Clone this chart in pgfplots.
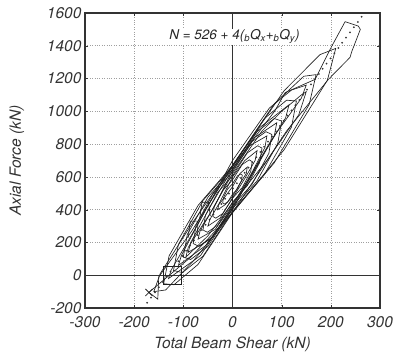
\documentclass[border=0pt]{standalone}
\usepackage{fontspec}
\setmainfont{TeX Gyre Heros}
\usepackage{pgfplots}
\pgfplotsset{compat=1.18}
\begin{document}
\begin{tikzpicture}
\begin{axis}[
 width=295pt, height=295pt, scale only axis,
 xmin=-300, xmax=300, ymin=-200, ymax=1600,
 xtick={-300,-200,...,300}, ytick={-200,0,...,1600},
 grid=major, grid style={dotted, gray!75, line width=0.6pt},
 axis line style={line width=1.3pt, black!80},
 tick align=inside, major tick length=3pt, tick style={black!80},
 /pgf/number format/assume math mode=true,
 /pgf/number format/set thousands separator={},
 ticklabel style={font=\fontsize{15.5}{18}\selectfont\itshape, text=black!80},
 xticklabel style={anchor=center, yshift=-14pt},
 label style={font=\fontsize{15.5}{18}\selectfont\itshape, text=black!80},
 xlabel={Total Beam Shear (kN)}, ylabel={Axial Force (kN)},
 xlabel style={at={(axis description cs:0.5,-0.122)}, anchor=center},
 ylabel style={at={(axis description cs:-0.231,0.5)}, anchor=center},
 clip=true,
 cyc/.style={black!88, line width=0.65pt},
]
\draw[line width=0.8pt, black!80] (axis cs:0,-200) -- (axis cs:0,1600);
\draw[line width=0.8pt, black!80] (axis cs:-300,0) -- (axis cs:300,0);
% gravity loading
\addplot[black!85, line width=1.4pt] coordinates {(0,0) (0,540)};
% hysteresis cycles
\addplot[cyc] coordinates {(0,558) (10,606) (17,618) (20,610) (18,576) (10,526) (0,494) (-10,446) (-17,434) (-20,442) (-18,476) (-10,526) (0,558)};
\addplot[cyc] coordinates {(0,582) (20,676) (34,704) (40,693) (37,632) (20,536) (0,470) (-20,376) (-34,348) (-40,359) (-37,420) (-20,516) (0,582)};
\addplot[cyc] coordinates {(0,606) (30,746) (51,790) (60,776) (55,686) (30,546) (0,446) (-30,306) (-51,262) (-60,276) (-55,366) (-30,506) (0,606)};
\addplot[cyc] coordinates {(0,630) (40,816) (68,876) (80,859) (74,744) (40,556) (0,422) (-40,236) (-68,176) (-80,193) (-74,308) (-40,496) (0,630)};
\addplot[cyc] coordinates {(0,646) (50,876) (85,956) (100,941) (92,804) (50,576) (0,406) (-50,176) (-85,96) (-100,111) (-92,248) (-50,476) (0,646)};
\addplot[cyc] coordinates {(0,662) (65,956) (110,1068) (130,1063) (120,904) (65,616) (0,390) (-60,116) (-102,16) (-120,29) (-110,188) (-60,456) (0,662)};
\addplot[cyc] coordinates {(0,670) (85,1046) (145,1214) (170,1224) (156,1042) (85,686) (0,382) (-70,66) (-119,-58) (-140,-52) (-129,118) (-70,426) (0,670)};
\addplot[cyc] coordinates {(0,670) (105,1126) (178,1346) (210,1384) (193,1190) (105,766) (0,382) (-80,86) (-136,-90) (-160,-100) (-147,10) (-80,326) (0,670)};
\addplot[cyc] coordinates {(0,662) (86,1002) (107,1114) (168,1195) (202,1398) (229,1547) (256,1520) (260,1500) (243,1368) (239,1329) (195,1195) (110,880) (0,382) (-85,110) (-170,-105) (-152,-146) (-150,-10) (-85,260) (0,662)};
% inner repeated cycles
\addplot[cyc] coordinates {(0,540) (15,620) (30,660) (28,620) (15,560) (0,480) (-15,430) (-30,400) (-28,430) (-15,480) (0,540)};
\addplot[cyc] coordinates {(0,600) (25,700) (50,760) (46,700) (25,590) (0,470) (-25,350) (-50,300) (-46,340) (-25,450) (0,600)};
\addplot[cyc] coordinates {(0,640) (35,790) (70,850) (66,780) (35,600) (0,430) (-35,280) (-70,220) (-66,270) (-35,430) (0,640)};
\addplot[cyc] coordinates {(0,650) (45,840) (90,930) (85,850) (45,640) (0,410) (-45,220) (-90,140) (-85,200) (-45,420) (0,650)};
\addplot[cyc] coordinates {(0,670) (55,900) (115,1040) (108,960) (55,700) (0,400) (-55,180) (-110,60) (-104,120) (-55,400) (0,670)};
\addplot[cyc] coordinates {(0,700) (75,1020) (120,1130) (150,1160) (140,1080) (80,830) (0,420) (-65,120) (-130,-20) (-125,30) (-65,340) (0,700)};
\addplot[cyc] coordinates {(0,620) (60,880) (100,1000) (140,1100) (150,1120) (135,980) (70,700) (0,440) (-50,240) (-95,110) (-90,170) (-45,380) (0,620)};
% boxes
\addplot[cyc] coordinates {(-141,-55) (-141,57) (-104,57) (-104,-55) (-141,-55)};
\addplot[cyc] coordinates {(-67,341) (-62,445) (-49,445) (-45,360)};
\addplot[cyc] coordinates {(-90,230) (-86,330) (-70,330) (-72,240)};
% estimate line
\addplot[black!80, line width=2pt, dash pattern=on 0pt off 6.5pt, line cap=round] coordinates {(-181.5,-200) (268.5,1600)};
\addplot[only marks, mark=x, mark size=5pt, black!85, line width=0.8pt] coordinates {(-170,-105)};
\node[font=\fontsize{13.5}{16}\selectfont\itshape, text=black!85, fill=white, inner sep=1pt] at (axis cs:4,1455) {N = 526 + 4(\textsubscript{b}Q\textsubscript{x}+\textsubscript{b}Q\textsubscript{y})};
\end{axis}
\path (current axis.south west) ++(-85pt,-50pt);
\path (current axis.north east) ++(19pt,13pt);
\end{tikzpicture}
\end{document}
